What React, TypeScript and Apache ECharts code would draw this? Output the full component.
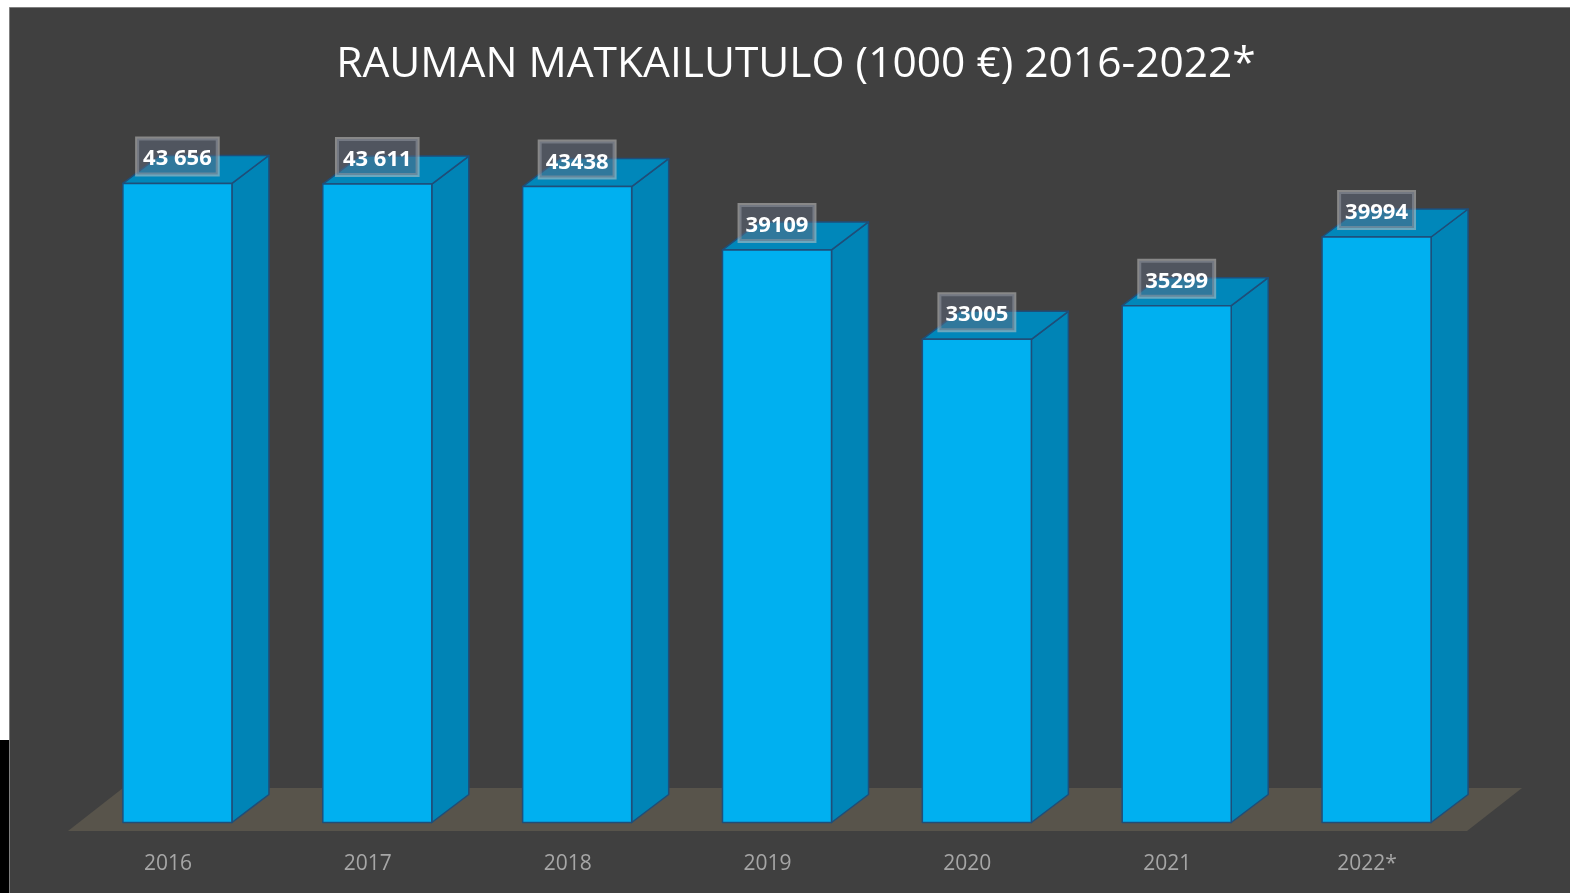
import React, { useEffect, useRef } from "react";
import * as echarts from "echarts";

const categories = ["2016", "2017", "2018", "2019", "2020", "2021", "2022*"];
const values = [43656, 43611, 43438, 39109, 33005, 35299, 39994];
const valueLabels = ["43 656", "43 611", "43438", "39109", "33005", "35299", "39994"];
const titleText = "RAUMAN MATKAILUTULO (1000 €) 2016-2022*";

// 3D styling constants (pixels)
const OFF_X = 9.5;
const OFF_Y = -8.5;
const DX = 37;
const DY = -28;
const BAR_FRAC = 0.5455;

export default function App() {
  const ref = useRef<HTMLDivElement>(null);

  useEffect(() => {
    if (!ref.current) return;
    const chart = echarts.init(ref.current, null, { renderer: "svg" });
    const edge = "#1f4e79";
    chart.setOption({
      animation: false,
      backgroundColor: "transparent",
      grid: { left: 68, right: 103, top: 99, bottom: 62 },
      xAxis: {
        type: "category",
        data: categories,
        z: 10,
        axisLine: { show: false },
        axisTick: { show: false },
        axisLabel: {
          color: "#a6a6a6",
          fontFamily: "Open Sans",
          fontSize: 21,
          margin: 20,
        },
        splitLine: { show: false },
      },
      yAxis: {
        type: "value",
        min: 0,
        max: 50000,
        show: false,
        splitLine: { show: false },
      },
      graphic: [
        {
          type: "rect",
          z: -10,
          shape: { x: 9.5, y: 7.5, width: 1575, height: 900 },
          style: { fill: "#404040", stroke: "#7f7f7f", lineWidth: 1 },
          silent: true,
        },
        {
          type: "rect",
          z: -9,
          shape: { x: 0, y: 740, width: 9, height: 160 },
          style: { fill: "#000000" },
          silent: true,
        },
        {
          type: "polygon",
          z: -8,
          shape: {
            points: [
              [68, 831],
              [1467, 831],
              [1522, 788],
              [123, 788],
            ],
          },
          style: { fill: "#58544b" },
          silent: true,
        },
        {
          type: "text",
          z: 5,
          x: 796,
          y: 60,
          style: {
            text: titleText,
            fill: "#ffffff",
            font: "42.5px 'Open Sans'",
            align: "center",
            verticalAlign: "middle",
          },
          silent: true,
        },
      ],
      series: [
        {
          type: "custom",
          data: values.map((v, i) => [i, v]),
          encode: { x: 0, y: 1 },
          renderItem: (params: any, api: any) => {
            const i = api.value(0);
            const v = api.value(1);
            const base = api.coord([i, 0]);
            const top = api.coord([i, v]);
            const band = api.size([1, 0])[0];
            const w = band * BAR_FRAC;
            const cx = base[0] + OFF_X;
            const x0 = cx - w / 2;
            const x1 = cx + w / 2;
            const yB = base[1] + OFF_Y;
            const yT = top[1] + OFF_Y;
            const lineStyle = { stroke: edge, lineWidth: 1.5, lineJoin: "round" };
            return {
              type: "group",
              children: [
                {
                  type: "polygon",
                  shape: {
                    points: [
                      [x1, yT],
                      [x1 + DX, yT + DY],
                      [x1 + DX, yB + DY],
                      [x1, yB],
                    ],
                  },
                  style: { fill: "#0084b6", ...lineStyle },
                },
                {
                  type: "polygon",
                  shape: {
                    points: [
                      [x0, yT],
                      [x0 + DX, yT + DY],
                      [x1 + DX, yT + DY],
                      [x1, yT],
                    ],
                  },
                  style: { fill: "#0087ba", ...lineStyle },
                },
                {
                  type: "polygon",
                  shape: {
                    points: [
                      [x0, yT],
                      [x1, yT],
                      [x1, yB],
                      [x0, yB],
                    ],
                  },
                  style: { fill: "#00b0f0", ...lineStyle },
                },
                {
                  type: "text",
                  x: cx,
                  y: yT - 27,
                  style: {
                    text: valueLabels[i],
                    fill: "#ffffff",
                    font: "bold 22px 'Open Sans'",
                    align: "center",
                    verticalAlign: "middle",
                    lineHeight: 24,
                    padding: [6, 6, 6, 6],
                    backgroundColor: "rgba(95,105,125,0.5)",
                    borderColor: "rgba(195,195,195,0.55)",
                    borderWidth: 2,
                  },
                },
              ],
            };
          },
        },
      ],
    });
    return () => chart.dispose();
  }, []);

  return (
    <div
      ref={ref}
      style={{ position: "fixed", left: 0, top: 0, width: 1570, height: 893 }}
    />
  );
}
